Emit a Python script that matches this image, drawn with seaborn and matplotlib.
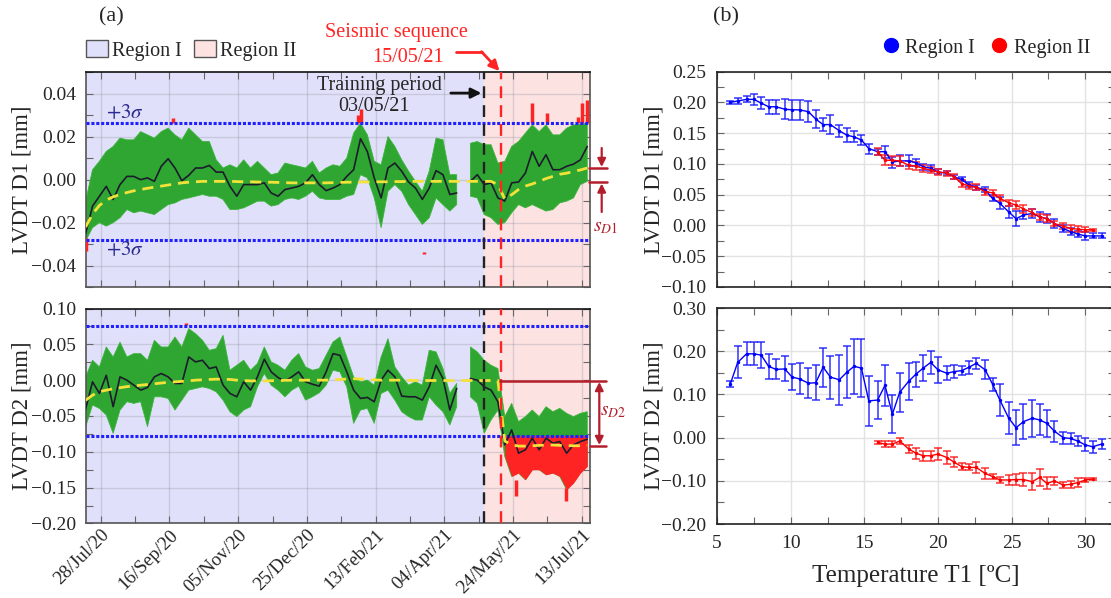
import numpy as np
import pandas as pd
import matplotlib
matplotlib.use("Agg")
import matplotlib.pyplot as plt
import matplotlib.dates as mdates
import matplotlib.ticker as mticker
from matplotlib.patches import Patch
from matplotlib.lines import Line2D
import seaborn as sns

# ---------------- data: panel (a), sampled every 5 days from 17/Jul/20 ----------------
start = pd.Timestamp("2020-07-17")
days = np.arange(0, 366, 5)
nan = np.nan

# LVDT D1: cloud envelope, moving average and trend
d1_hi = [-0.010, 0.0046, 0.0085, 0.0131, 0.0154, 0.0193, 0.0185, 0.0185, 0.0223, 0.0208, 0.0193, 0.0223, 0.0239,
         0.0208, 0.0185, 0.0239, 0.0208, 0.0177, 0.0177, 0.0092, 0.0054, 0.0069, 0.0054, 0.0092, 0.0054,
         0.0085, 0.0054, 0.0023, 0.0031, 0.0077, 0.0069, 0.0062, 0.0054, 0.0085, 0.0031, 0.0054, 0.0069, 0.0062,
         0.0100, 0.0216, 0.0262, 0.0208, 0.0085, 0.0069, 0.0200, 0.0154, 0.0092, 0.0039, -0.0008, -0.0054,
         0.0039, 0.0193, 0.0185, 0.0023, 0.0023, nan, 0.0169, 0.0177, 0.0162, 0.0162, 0.0077, 0.0085, 0.0154,
         0.0177, 0.0216, 0.0254, 0.0223, 0.0254, 0.0208, 0.0208, 0.0239, 0.0254, 0.0257, 0.0262]
d1_lo = [-0.0285, -0.0223, -0.0200, -0.0216, -0.0200, -0.0177, -0.0139, -0.0154, -0.0146, -0.0154, -0.0162, -0.0139,
         -0.0116, -0.0108, -0.0092, -0.0085, -0.0077, -0.0069, -0.0077, -0.0077, -0.0092, -0.0139, -0.0139, -0.0131,
         -0.0116,
         -0.0100, -0.0100, -0.0123, -0.0116, -0.0092, -0.0085, -0.0092, -0.0077, -0.0054, -0.0085, -0.0092, -0.0092,
         -0.0092, -0.0077, -0.0069, 0.0023, 0.0008, -0.0085, -0.0223, -0.0054, -0.0023, -0.0054, -0.0116, -0.0162,
         -0.0208,
         -0.0177, -0.0085, -0.0116, -0.0146, -0.0116, nan, -0.0077, -0.0085, -0.0162, -0.0177, -0.0208, -0.0200,
         -0.0154, -0.0116, -0.0131, -0.0116, -0.0131, -0.0146, -0.0139, -0.0108, -0.0100, -0.0085, -0.0023, -0.0008]
d1_mid = [-0.025, -0.0123, -0.0077, -0.0031, -0.0092, -0.0023, 0.0015, 0.0015, 0.0, 0.0008, -0.0008, 0.0062, 0.0097,
          0.0054, -0.0005, 0.002, 0.0054, 0.0054, 0.0066, 0.0035, 0.0035, -0.0031, -0.0077, -0.0023, -0.0023,
          -0.0023, -0.0015, -0.0062, -0.0077, -0.0046, -0.0039, -0.0031, -0.0015, 0.0023, -0.0023, -0.0051, -0.0039,
          -0.0023, 0.0015, 0.0046, 0.019, 0.013, 0.0008, -0.0085, 0.0054, 0.0077, 0.0039, -0.0011, -0.0039, -0.0092,
          -0.0039, 0.0042, 0.0023, -0.0069, -0.0062, nan, -0.0008, 0.0023, -0.0023, -0.0015, -0.0085, -0.0100,
          -0.0015, -0.0011, 0.0031, 0.0131, 0.0062, 0.0116, 0.0046, 0.0046, 0.0062, 0.0072, 0.0092, 0.0154]
d1_trend = [-0.022, -0.016, -0.012, -0.0095, -0.008, -0.0069, -0.006, -0.0052, -0.0046, -0.004, -0.0035, -0.003,
            -0.0025, -0.002, -0.0015, -0.0012, -0.001, -0.0008,
            -0.0008, -0.0008, -0.0008, -0.0008, -0.0009, -0.001, -0.001, -0.0011, -0.0012, -0.0012, -0.0013, -0.0014,
            -0.0015, -0.0015, -0.0015, -0.0015, -0.0015, -0.0015, -0.0014, -0.0013, -0.0012, -0.0012, -0.0011,
            -0.0011, -0.001, -0.001, -0.001, -0.0009, -0.0009, -0.0008, -0.0008, -0.0008, -0.0008, -0.0008, -0.0008,
            -0.0008, -0.0008, -0.0008, -0.0008, -0.0008, -0.0008, -0.0008,
            -0.0023, -0.009, -0.007, -0.0046, -0.003, -0.002, -0.0008, 0.0005, 0.0015, 0.0025, 0.003, 0.0038, 0.0045,
            0.0054]

# LVDT D2
d2_hi = [0.0046, 0.0278, 0.0185, 0.0463, 0.0324, 0.053, 0.0324, 0.037, 0.037, 0.0278, 0.0556, 0.0463, 0.0463, 0.0602,
         0.0463, 0.0718, 0.0648, 0.0556, 0.0417, 0.044, 0.0625, 0.0139, 0.0208, 0.0278, 0.0139,
         0.0232, 0.0463, 0.0255, 0.0208, 0.0139, 0.0278, 0.037, 0.0185, 0.0139, 0.0162, 0.0347, 0.0532, 0.0602,
         0.0324, 0.0046, -0.0023, 0.0, -0.0069, 0.0324, 0.0579, 0.0185, 0.0046, -0.0069, -0.0023, -0.0069,
         0.0417, 0.0394, 0.0162, -0.0185, -0.0046, nan, 0.0463, 0.0394, 0.0278, 0.0208, 0.0162, -0.0509, -0.0324,
         -0.0579, -0.0509, -0.0417, -0.0509, -0.037, -0.044, -0.0394, -0.0463, -0.0509, -0.0463, -0.044]
d2_lo = [-0.0648, -0.0347, -0.0394, -0.0486, -0.0741, -0.0417, -0.030, -0.0324, -0.030, -0.0648, -0.0232, -0.0232,
         -0.0255, -0.0417, -0.0278, -0.0139, -0.0116, -0.0093, -0.0116, -0.0162, -0.0278, -0.044, -0.0509, -0.0417,
         -0.037,
         -0.0093, 0.0093, -0.0069, -0.0139, -0.0232, -0.0139, -0.0083, -0.0278, -0.0232, -0.0176, -0.0069, 0.0139,
         0.0116, -0.0093, -0.0602, -0.0417, -0.0394, -0.0602, -0.0185, -0.0139, -0.0278, -0.044, -0.0509, -0.0556,
         -0.0556,
         -0.0232, -0.0347, -0.044, -0.0625, -0.037, nan, -0.0232, -0.0324, -0.0741, -0.0556, -0.0417, -0.1065,
         -0.1343, -0.1296, -0.1389, -0.125, -0.125, -0.132, -0.1296, -0.1343, -0.1528, -0.1435, -0.1296, -0.1204]
d2_mid = [-0.040, -0.0023, -0.0185, 0.0069, -0.037, 0.0046, 0.0, -0.0069, -0.0139, -0.0102, 0.0046, 0.0093, 0.0046,
          -0.0046, -0.0046, 0.0324, 0.0255, 0.0278, 0.0162, 0.0185, -0.0069, -0.0185, -0.0232, -0.0023, -0.0139,
          0.0046, 0.0292, 0.0116, 0.0037, -0.0014, 0.0046, 0.0116, -0.0023, -0.0056, -0.0083, 0.0116, 0.037, 0.0347,
          0.0116, -0.0139, -0.0255, -0.0241, -0.0301, 0.0, 0.0139, 0.0046, -0.0222, -0.0232, -0.0232, -0.0278,
          -0.0093, 0.0208, 0.0023, -0.0417, -0.0116, nan, 0.0023, 0.0, -0.0093, -0.0139, -0.0301, -0.0903, -0.0694,
          -0.1019, -0.0972, -0.081, -0.0972, -0.081, -0.088, -0.0857, -0.1019, -0.0903, -0.0857, -0.0824]
d2_trend = [-0.028, -0.021, -0.016, -0.014, -0.012, -0.0105, -0.009, -0.008, -0.007, -0.006, -0.005, -0.004, -0.003,
            -0.0023, -0.0016, -0.001, 0.0, 0.0005, 0.001, 0.0014, 0.0012, 0.001, 0.0, -0.0005, -0.001,
            -0.001, -0.001, -0.0008, -0.0005, -0.0003, 0.0, 0.0, 0.0, 0.0, 0.0, 0.0, 0.0005, 0.001, 0.0015, 0.002,
            0.0015, 0.001, 0.0005, 0.0, 0.0, 0.0, 0.0, -0.0003, -0.0005, -0.0005, -0.0005, -0.0005, -0.0005, -0.0005,
            -0.0005, -0.0005, -0.0005, -0.0005, -0.0005, -0.0005, -0.0005,
            -0.085, -0.09, -0.092, -0.092, -0.0915, -0.091, -0.0905, -0.0905, -0.091, -0.0912, -0.0915, -0.0915,
            -0.091]

# points flagged outside the +/-3 sigma band (day, low, high)
d1_out_day = [0.5, 63.5, 198.0, 200.5, 246.5, 324.7, 335.5, 358.0, 361.4, 364.5]
d1_out_lo = [-0.033, 0.0265, 0.0265, 0.027, -0.0345, 0.0265, 0.0265, 0.0265, 0.0265, 0.0265]
d1_out_hi = [-0.027, 0.0285, 0.030, 0.033, -0.0335, 0.0355, 0.031, 0.029, 0.0355, 0.037]
d2_out_day = [72.8, 312.9, 349.3]
d2_out_lo = [0.077, -0.162, -0.169]
d2_out_hi = [0.080, -0.140, -0.150]

d1_sigma = [0.0264, -0.0279]
d2_sigma = [0.0754, -0.0774]

date_ticks = ["2020-07-28", "2020-09-16", "2020-11-05", "2020-12-25", "2021-02-13", "2021-04-04", "2021-05-24",
              "2021-07-13"]
training_date = "2021-05-03"
seismic_date = "2021-05-15"

# ---------------- data: panel (b) ----------------
temp_I = [5.9, 6.4, 7.0, 7.5, 8.0, 8.5, 9.0, 9.6, 10.1, 10.6, 11.2, 11.7, 12.2, 12.7, 13.3, 13.8, 14.3, 14.8, 15.3,
          15.9, 16.4, 16.9, 17.4, 18.0, 18.5, 19.0, 19.5, 20.0, 20.6, 21.1, 21.6, 22.1, 22.6, 23.2, 23.7, 24.2, 24.8,
          25.3, 25.8, 26.4, 26.9, 27.4, 27.9, 28.5, 29.0, 29.5, 30.0, 30.5, 31.1]
temp_II = [15.9, 16.4, 16.9, 17.4, 18.0, 18.5, 19.0, 19.5, 20.0, 20.6, 21.1, 21.6, 22.1, 22.6, 23.2, 23.7, 24.2, 24.8,
           25.3, 25.8, 26.4, 26.9, 27.4, 27.9, 28.5, 29.0, 29.5, 30.0, 30.5]
b_d1_I = [0.200, 0.2025, 0.205, 0.205, 0.199, 0.193, 0.193, 0.189, 0.188, 0.188, 0.185, 0.173, 0.164, 0.164, 0.154,
          0.147, 0.144, 0.139, 0.125, 0.120, 0.120, 0.103, 0.105, 0.105, 0.102, 0.0955, 0.093, 0.087, 0.085, 0.079,
          0.075, 0.066, 0.062, 0.058, 0.044, 0.036, 0.022, 0.011, 0.017, 0.0195, 0.014, 0.011, 0.003, -0.005, -0.010,
          -0.014, -0.017, -0.017, -0.017]
b_d1_I_err = [0.002, 0.0045, 0.005, 0.009, 0.01, 0.011, 0.011, 0.016, 0.016, 0.016, 0.017, 0.014, 0.01, 0.016, 0.01,
              0.012, 0.009, 0.008, 0.008, 0.005, 0.01, 0.009, 0.009, 0.009, 0.006, 0.005, 0.005, 0.004, 0.003, 0.003,
              0.003, 0.004, 0.004, 0.004, 0.005, 0.01, 0.01, 0.012, 0.007, 0.008, 0.008, 0.007, 0.007, 0.006, 0.006,
              0.005, 0.007, 0.004, 0.004]
b_d1_II = [0.120, 0.106, 0.106, 0.105, 0.098, 0.0965, 0.093, 0.090, 0.087, 0.085, 0.079, 0.068, 0.064, 0.062, 0.055,
           0.053, 0.044, 0.037, 0.033, 0.027, 0.021, 0.014, 0.011, 0.003, -0.001, -0.005, -0.006, -0.007, -0.007]
b_d1_II_err = [0.006, 0.008, 0.007, 0.008, 0.007, 0.006, 0.006, 0.005, 0.005, 0.004, 0.004, 0.006, 0.004, 0.005,
               0.005, 0.005, 0.005, 0.005, 0.006, 0.006, 0.005, 0.005, 0.006, 0.004, 0.005, 0.005, 0.005, 0.004, 0.002]
b_d2_I = [0.124, 0.174, 0.194, 0.194, 0.191, 0.165, 0.158, 0.159, 0.140, 0.136, 0.126, 0.127, 0.163, 0.140, 0.134,
          0.151, 0.165, 0.161, 0.085, 0.087, 0.121, 0.054, 0.105, 0.130, 0.147, 0.161, 0.174, 0.157, 0.149, 0.153,
          0.155, 0.163, 0.172, 0.157, 0.124, 0.087, 0.045, 0.023, 0.037, 0.045, 0.041, 0.033, 0.015, 0.000, -0.002,
          -0.008, -0.017, -0.021, -0.015]
b_d2_I_err = [0.006, 0.037, 0.027, 0.027, 0.03, 0.029, 0.023, 0.029, 0.03, 0.036, 0.035, 0.04, 0.045, 0.05, 0.058,
              0.06, 0.063, 0.068, 0.058, 0.043, 0.047, 0.044, 0.045, 0.043, 0.029, 0.03, 0.026, 0.03, 0.016, 0.014,
              0.01, 0.015, 0.012, 0.022, 0.015, 0.036, 0.037, 0.04, 0.04, 0.043, 0.036, 0.031, 0.024, 0.014, 0.013,
              0.012, 0.015, 0.014, 0.012]
b_d2_II = [-0.011, -0.015, -0.015, -0.008, -0.026, -0.036, -0.042, -0.042, -0.038, -0.046, -0.057, -0.067, -0.069,
           -0.069, -0.083, -0.090, -0.098, -0.098, -0.097, -0.097, -0.102, -0.092, -0.106, -0.100, -0.110, -0.108,
           -0.104, -0.098, -0.096]
b_d2_II_err = [0.003, 0.007, 0.007, 0.007, 0.01, 0.013, 0.012, 0.012, 0.014, 0.016, 0.012, 0.008, 0.007, 0.013,
               0.012, 0.005, 0.008, 0.011, 0.012, 0.015, 0.02, 0.02, 0.014, 0.01, 0.007, 0.008, 0.01, 0.005, 0.002]

# ---------------- style ----------------
sns.set_style("ticks")
plt.rcParams["font.family"] = ["Liberation Serif", "DejaVu Serif"]
plt.rcParams["mathtext.fontset"] = "stix"
plt.rcParams["axes.unicode_minus"] = True

LAV = "#e0e0fa"
PINK = "#fde2e2"
GREEN = "#2fa632"
RED = "#ff2424"
DARKRED = "#b41e2c"
SIGBLUE = "#2020ff"
TICK_FS = 14

fig = plt.figure(figsize=(11.11, 5.98), dpi=100)
ax1 = fig.add_axes([0.0771, 0.5196, 0.4537, 0.3600])
ax2 = fig.add_axes([0.0771, 0.1246, 0.4537, 0.3595])
ax3 = fig.add_axes([0.6454, 0.5201, 0.3580, 0.3600])
ax4 = fig.add_axes([0.6454, 0.1237, 0.3580, 0.3612])

t0 = mdates.date2num(start)
xs = t0 + days
x_train = mdates.date2num(pd.Timestamp(training_date))
x_seis = mdates.date2num(pd.Timestamp(seismic_date))
xlim = (t0, t0 + 366.8)

minus_fmt = mticker.FuncFormatter(lambda v, p: f"{v:.2f}".replace("-", "\u2212"))


def px2fig(x, y):
    return x / 1111, 1 - y / 598


def draw_series(ax, lo, hi, mid, trend, sigma, out_day, out_lo, out_hi, ylim, major, minor, red_cloud=False):
    lo = np.array(lo)
    hi = np.array(hi)
    ax.axvspan(xlim[0], x_train, color=LAV, zorder=0, lw=0)
    ax.axvspan(x_train, xlim[1], color=PINK, zorder=0, lw=0)
    ax.fill_between(xs, lo, hi, color=GREEN, lw=0.6, edgecolor="#3cb43c", zorder=2)
    if red_cloud:
        cut = np.where(xs >= x_seis, np.minimum(hi, sigma[1]), np.nan)
        ax.fill_between(xs, lo, cut, color=RED, lw=0, zorder=2.5)
    ax.vlines(t0 + np.array(out_day), out_lo, out_hi, color=RED, lw=2.5, zorder=2.6)
    for s in sigma:
        ax.axhline(s, color=SIGBLUE, lw=2.2, ls=(0, (1, 0.6)), dash_capstyle="butt", zorder=3)
    ax.plot(xs, mid, color="#1c1c2c", lw=1.2, zorder=4)
    sns.lineplot(x=xs, y=trend, ax=ax, color="#f2e23a", lw=2, zorder=5, legend=False)
    ax.lines[-1].set_dashes((4, 2.5))
    ax.axvline(x_train, color="#222222", lw=1.7, ls=(0, (5, 3)), zorder=6)
    ax.axvline(x_seis, color=RED, lw=1.7, ls=(0, (5, 3)), zorder=6)
    ax.set_xlim(xlim)
    ax.set_ylim(ylim)
    ax.xaxis.set_major_locator(mticker.FixedLocator(mdates.date2num(pd.to_datetime(date_ticks))))
    ax.xaxis.set_minor_locator(mticker.FixedLocator(
        mdates.date2num(pd.date_range("2020-07-28", "2021-07-19", freq="25D"))))
    ax.xaxis.set_major_formatter(mdates.DateFormatter("%d/%b/%y"))
    ax.yaxis.set_major_locator(mticker.MultipleLocator(major))
    ax.yaxis.set_minor_locator(mticker.MultipleLocator(minor))
    ax.yaxis.set_major_formatter(minus_fmt)
    ax.set_axisbelow(True)
    ax.grid(True, which="major", color="#9a9aa8", alpha=0.35, lw=1)
    ax.tick_params(which="both", direction="in", top=True, right=True, length=5, width=0.8, color="#666666",
                   labelsize=TICK_FS)
    ax.tick_params(axis="y", pad=7)
    for sp in ax.spines.values():
        sp.set_color("#555555")
        sp.set_linewidth(1.2)
    ax.spines["top"].set_color("#111111")


draw_series(ax1, d1_lo, d1_hi, d1_mid, d1_trend, d1_sigma, d1_out_day, d1_out_lo, d1_out_hi,
            (-0.05, 0.05), 0.02, 0.01)
draw_series(ax2, d2_lo, d2_hi, d2_mid, d2_trend, d2_sigma, d2_out_day, d2_out_lo, d2_out_hi,
            (-0.2, 0.1), 0.05, 0.025, red_cloud=True)
ax1.tick_params(labelbottom=False)
ax1.set_ylabel("LVDT D1 [mm]", fontsize=16.5, labelpad=-1)
ax2.set_ylabel("LVDT D2 [mm]", fontsize=16.5, labelpad=-1)
ax2.tick_params(axis="x", labelsize=13.6, pad=2)
for lab in ax2.get_xticklabels():
    lab.set_rotation(45)
    lab.set_ha("right")
    lab.set_rotation_mode("anchor")

# sigma labels
ax1.text(t0 + 28.6, 0.0305, r"$+3\sigma$", color="#2a2a90", fontsize=15, ha="center", va="center")
ax1.text(t0 + 28.6, -0.0330, r"$+3\sigma$", color="#2a2a90", fontsize=15, ha="center", va="center")

# training period annotation
ax1.text(t0 + 214, 0.0437, "Training period", fontsize=14.5, ha="center", va="center", zorder=7)
ax1.text(t0 + 210, 0.0342, "03/05/21", fontsize=14.5, ha="center", va="center", zorder=7)
ax1.annotate("", xy=(x_train, 0.0402), xytext=(t0 + 263.7, 0.0402),
             arrowprops=dict(arrowstyle="-|>", color="#111111", lw=2, mutation_scale=15), zorder=7)

# region legend in panel (a)
ax1.legend(handles=[Patch(facecolor=LAV, edgecolor="#555555", label="Region I"),
                    Patch(facecolor=PINK, edgecolor="#555555", label="Region II")],
           loc="lower left", bbox_to_anchor=(-0.012, 1.025), ncol=2, frameon=False, fontsize=14.5,
           handlelength=1.1, handleheight=0.9, handletextpad=0.2, columnspacing=0.6, borderaxespad=0.1,
           borderpad=0.2)

# seismic sequence annotation (figure level)
fig.text(*px2fig(396, 33), "Seismic sequence", color=RED, fontsize=14.5, ha="center", va="center")
fig.text(*px2fig(408, 58), "15/05/21", color=RED, fontsize=14.5, ha="center", va="center")
fig.add_artist(Line2D([456 / 1111, 482 / 1111], [1 - 51.7 / 598, 1 - 51.7 / 598], color=RED, lw=2))
fig.add_artist(plt.Annotation("", xy=px2fig(499.5, 71), xytext=px2fig(481.5, 51.7), xycoords="figure fraction",
                              arrowprops=dict(arrowstyle="-|>", color=RED, lw=2, mutation_scale=15,
                                              shrinkA=0, shrinkB=0)))

# s_D1 marker
for y in (168.3, 182.3):
    fig.add_artist(Line2D([589 / 1111, 607 / 1111], [1 - y / 598] * 2, color=DARKRED, lw=1.8))
fig.add_artist(plt.Annotation("", xy=px2fig(601.7, 167), xytext=px2fig(601.7, 148), xycoords="figure fraction",
                              arrowprops=dict(arrowstyle="-|>", color=DARKRED, lw=1.6, mutation_scale=12,
                                              shrinkA=0, shrinkB=0)))
fig.add_artist(plt.Annotation("", xy=px2fig(601.7, 183.5), xytext=px2fig(601.7, 212), xycoords="figure fraction",
                              arrowprops=dict(arrowstyle="-|>", color=DARKRED, lw=1.6, mutation_scale=12,
                                              shrinkA=0, shrinkB=0)))
fig.text(*px2fig(605, 227), r"$s_{D1}$", color=DARKRED, fontsize=14, ha="center", va="center")

# s_D2 marker
fig.add_artist(Line2D([500 / 1111, 606 / 1111], [1 - 381 / 598] * 2, color=DARKRED, lw=1.8, zorder=7))
fig.add_artist(Line2D([589.7 / 1111, 606 / 1111], [1 - 445.7 / 598] * 2, color=DARKRED, lw=1.8, zorder=7))
fig.add_artist(plt.Annotation("", xy=px2fig(599.3, 445), xytext=px2fig(599.3, 382), xycoords="figure fraction",
                              arrowprops=dict(arrowstyle="<|-|>", color=DARKRED, lw=1.6, mutation_scale=12,
                                              shrinkA=0, shrinkB=0)))
fig.text(*px2fig(613, 412), r"$s_{D2}$", color=DARKRED, fontsize=14, ha="center", va="center")


# ---------------- panel (b) ----------------
def draw_temp(ax, t, v, err, color, ecolor):
    sns.lineplot(x=t, y=v, ax=ax, color=color, lw=1, marker="o", markersize=2.5, markeredgewidth=0,
                 legend=False, zorder=4)
    ax.errorbar(t, v, yerr=err, fmt="none", ecolor=ecolor, elinewidth=1.4, capsize=3, capthick=1.4, zorder=3)


draw_temp(ax3, temp_I, b_d1_I, b_d1_I_err, "#0000ff", (0.1, 0.1, 1.0, 0.7))
draw_temp(ax3, temp_II, b_d1_II, b_d1_II_err, "#ff0000", (1.0, 0.1, 0.1, 0.7))
draw_temp(ax4, temp_I, b_d2_I, b_d2_I_err, "#0000ff", (0.1, 0.1, 1.0, 0.7))
draw_temp(ax4, temp_II, b_d2_II, b_d2_II_err, "#ff0000", (1.0, 0.1, 0.1, 0.7))

for ax, ylim, major, minor in ((ax3, (-0.10, 0.25), 0.05, 0.025), (ax4, (-0.20, 0.30), 0.10, 0.05)):
    ax.set_xlim(5, 32)
    ax.set_ylim(ylim)
    ax.xaxis.set_major_locator(mticker.MultipleLocator(5))
    ax.xaxis.set_minor_locator(mticker.MultipleLocator(2.5))
    ax.yaxis.set_major_locator(mticker.MultipleLocator(major))
    ax.yaxis.set_minor_locator(mticker.MultipleLocator(minor))
    ax.yaxis.set_major_formatter(minus_fmt)
    ax.set_axisbelow(True)
    ax.grid(True, which="major", color="#e2e2e2", lw=1)
    ax.tick_params(which="both", direction="in", top=True, right=True, length=5, width=0.8, color="#666666",
                   labelsize=TICK_FS)
    ax.tick_params(axis="y", pad=8)
    ax.tick_params(axis="x", pad=8)
    for sp in ax.spines.values():
        sp.set_color("#222222")
        sp.set_linewidth(1.2)

ax3.tick_params(labelbottom=False)
ax3.set_ylabel("LVDT D1 [mm]", fontsize=16.5, labelpad=-3)
ax4.set_ylabel("LVDT D2 [mm]", fontsize=16.5, labelpad=-3)
ax4.set_xlabel("Temperature T1 [ºC]", fontsize=18, labelpad=9)

fig.legend(handles=[Line2D([], [], ls="none", marker="o", color="#0000ff", markersize=10, label="Region I"),
                    Line2D([], [], ls="none", marker="o", color="#ff0000", markersize=10, label="Region II")],
           loc="center right", bbox_to_anchor=px2fig(1108, 48), ncol=2, frameon=False, fontsize=14.5,
           handletextpad=0.1, columnspacing=0.6, handlelength=1.2)

fig.text(*px2fig(111, 17), "(a)", fontsize=16, ha="center", va="center")
fig.text(*px2fig(726, 17), "(b)", fontsize=16, ha="center", va="center")

fig.savefig("out.png", dpi=100)
